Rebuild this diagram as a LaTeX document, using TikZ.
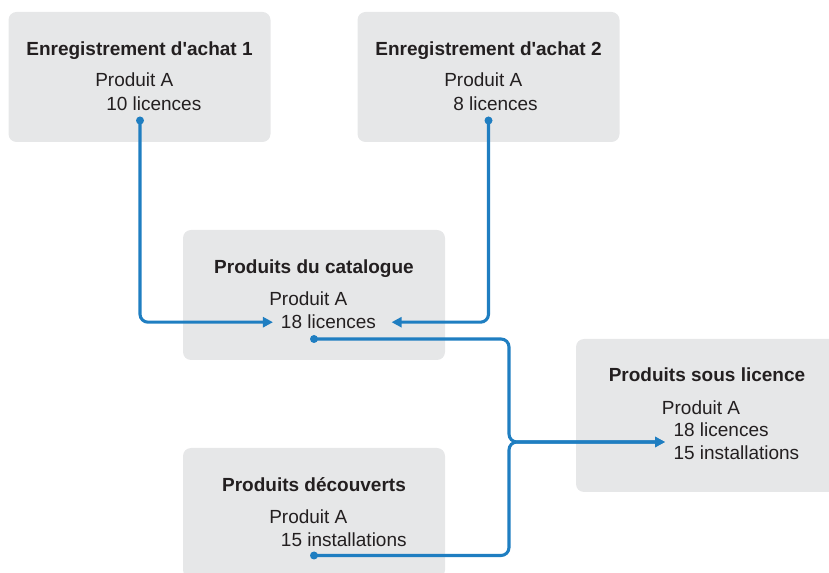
\documentclass[tikz,border=0pt]{standalone}
\usepackage{fontspec}
\setmainfont{Liberation Sans}[Ligatures=TeXOff]
\usetikzlibrary{arrows.meta,positioning}
\definecolor{boxgray}{HTML}{E6E7E8}
\definecolor{linkblue}{HTML}{1F7EC1}
\definecolor{ink}{HTML}{231F20}
\newcommand\txtsize{\fontsize{14.25pt}{17pt}\selectfont}

\begin{document}
\begin{tikzpicture}[x=0.75pt,y=-0.75pt,
    box/.style={fill=boxgray,rounded corners=6pt,minimum width=196.5pt,minimum height=97.5pt,inner sep=0pt},
    title/.style={font=\txtsize\bfseries,text=ink,anchor=base,inner sep=0pt},
    line/.style={font=\txtsize,text=ink,anchor=base west,inner sep=0pt},
    dot/.style={circle,fill=linkblue,inner sep=0pt,minimum size=6pt},
    link/.style={draw=linkblue,line width=2.3pt,rounded corners=6pt,-{Triangle[length=7.5pt,width=7.5pt]}}]
  \clip (0,0) rectangle (829,573);

  % boxes
  \node[box] (rec1) at (139.5,77) {};
  \node[box] (rec2) at (488.5,77) {};
  \node[box] (cat) at (314,295) {};
  \node[box] (disc) at (314,513) {};
  \node[box,minimum height=114.75pt] (lic) at (707,415.5) {};

  % texts
  \node[title] (ttl1) at (139.5,56) {Enregistrement d'achat 1};
  \node[line] (prd1) at (95,87) {Produit A};
  \node[line] (qty1) at (106,110.5) {10 licences};

  \node[title] (ttl2) at (488.5,56) {Enregistrement d'achat 2};
  \node[line] (prd2) at (444,87) {Produit A};
  \node[line] (qty2) at (453,110.5) {8 licences};

  \node[title] (ttl3) at (314,274) {Produits du catalogue};
  \node[line] (prd3) at (269,305.7) {Produit A};
  \node[line] (qty3) at (280.7,329) {18 licences};

  \node[title] (ttl4) at (314,492) {Produits découverts};
  \node[line] (prd4) at (269,523.5) {Produit A};
  \node[line] (qty4) at (280.7,547) {15 installations};

  \node[title] (ttl5) at (707,382) {Produits sous licence};
  \node[line] (prd5) at (661.7,414.3) {Produit A};
  \node[line] (qty5a) at (673.3,436.7) {18 licences};
  \node[line] (qty5b) at (673.3,459.3) {15 installations};

  % links
  \node[dot] (d1) at (140,120.5) {};
  \node[dot] (d2) at (488.5,120.5) {};
  \node[dot] (d3) at (314,339) {};
  \node[dot] (d4) at (314,555.5) {};
  \coordinate (join) at (509,442);
  \coordinate (in5) at (665,442);

  \draw[link] (d1.center) |- ([xshift=-5.8pt]qty3.west);
  \draw[link] (d2.center) |- ([xshift=11.5pt]qty3.east);
  \draw[link] (d3.center) -| (join) -- (in5);
  \draw[link] (d4.center) -| (join) -- (in5);
\end{tikzpicture}
\end{document}
